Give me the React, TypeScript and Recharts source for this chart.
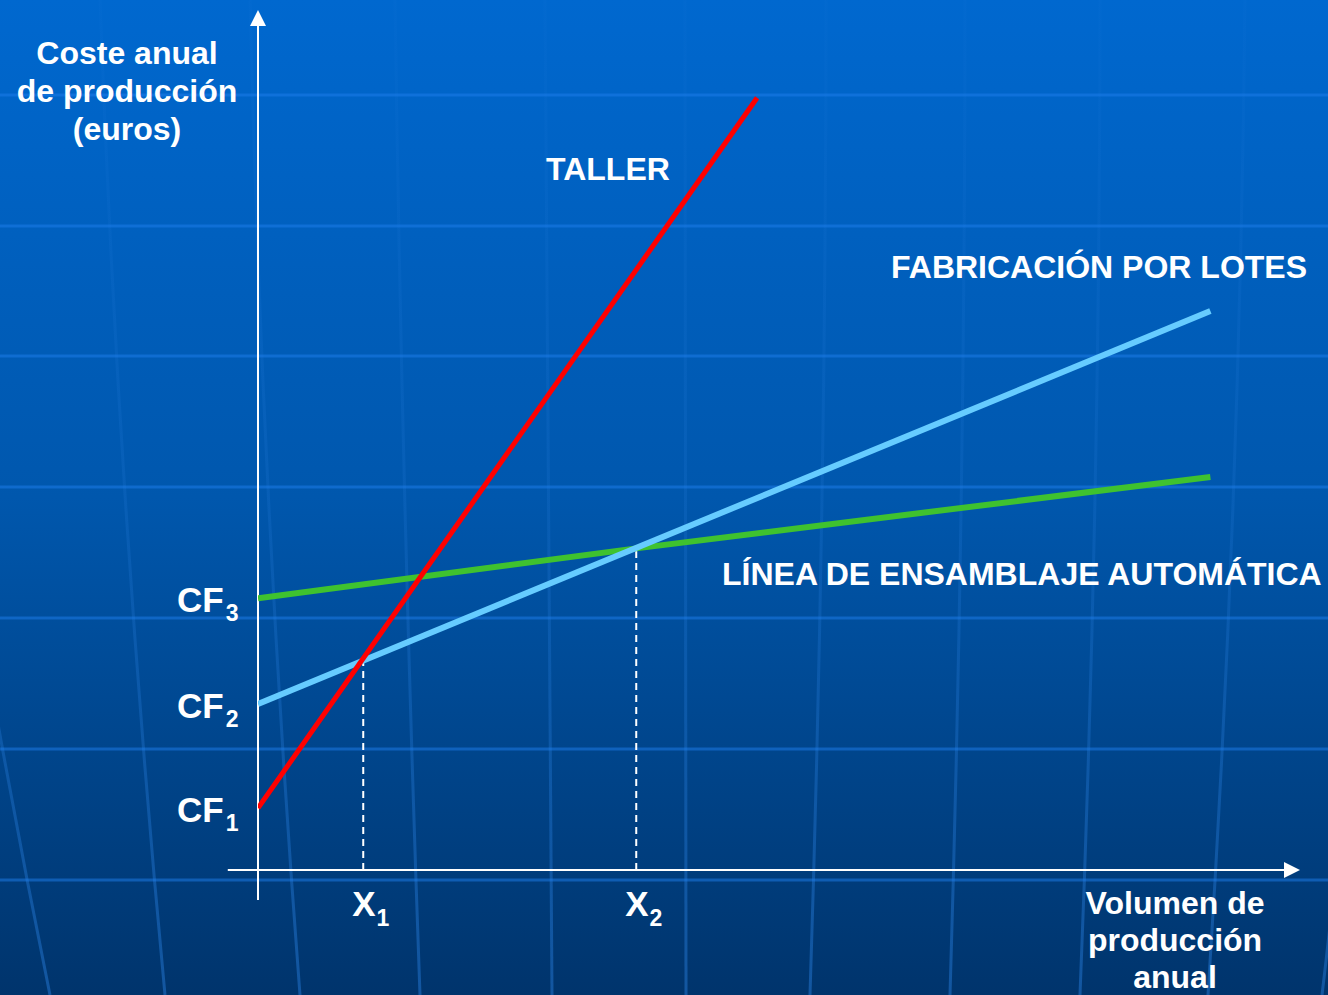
import { Line, LineChart, ReferenceLine, XAxis, YAxis } from "recharts";

// cost (c) against annual volume (v), both axes 0..100
const taller = [
  { v: 0, c: 7.2 },
  { v: 47.9, c: 89.8 },
];
const lotes = [
  { v: 0, c: 19.3 },
  { v: 91.4, c: 65.0 },
];
const ensamblaje = [
  { v: 0, c: 31.6 },
  { v: 36.3, c: 37.4 },
  { v: 91.4, c: 45.7 },
];

const cfTicks = [7.2, 19.3, 31.6];
const cfSubs = ["1", "2", "3"];
const xTicks = [10.1, 36.3];
const xSubs = ["1", "2"];
const crossCost = [24.5, 37.4];

const yTitle = ["Coste anual", "de producción", "(euros)"];
const xTitle = ["Volumen de", "producción", "anual"];

const W = 1328;
const H = 995;
const FONT = "'Liberation Sans', Arial, Helvetica, sans-serif";

const gridRows = [95, 226, 356, 487, 618, 749, 880];
const meridians = [
  "M -40 500 Q 0 750 50 995",
  "M 100 0 Q 118 500 165 995",
  "M 250 0 Q 262 500 300 995",
  "M 395 0 Q 402 500 420 995",
  "M 545 0 L 552 995",
  "M 685 0 L 686 995",
  "M 826 0 Q 826 500 810 995",
  "M 965 0 Q 965 500 950 995",
  "M 1100 0 Q 1100 500 1080 995",
  "M 1245 0 Q 1240 500 1208 995",
  "M 1380 0 Q 1370 600 1322 995",
];

function CfTick(props: any) {
  const { y, index } = props;
  return (
    <text x={177} y={y + 14} fill="#fff" fontFamily={FONT} fontWeight="bold" fontSize={35}>
      CF
      <tspan fontSize={23} dx={2} dy={9}>
        {cfSubs[index] ?? ""}
      </tspan>
    </text>
  );
}

function XTick(props: any) {
  const { x, index } = props;
  return (
    <text x={x - 11} y={916} fill="#fff" fontFamily={FONT} fontWeight="bold" fontSize={35}>
      X
      <tspan fontSize={23} dx={1} dy={10}>
        {xSubs[index] ?? ""}
      </tspan>
    </text>
  );
}

const arrowUp = (p: any) => (
  <g>
    <line x1={p.x1} y1={p.y1} x2={p.x2} y2={p.y2 + 10} stroke="#fff" strokeWidth={2} />
    <polygon points={`${p.x2},${p.y2} ${p.x2 - 8},${p.y2 + 16} ${p.x2 + 8},${p.y2 + 16}`} fill="#fff" />
  </g>
);

const arrowRight = (p: any) => (
  <g>
    <line x1={p.x1} y1={p.y1} x2={p.x2 - 10} y2={p.y2} stroke="#fff" strokeWidth={2} />
    <polygon points={`${p.x2},${p.y2} ${p.x2 - 16},${p.y2 - 8} ${p.x2 - 16},${p.y2 + 8}`} fill="#fff" />
  </g>
);

const labelStyle = { fill: "#fff", fontFamily: FONT, fontWeight: "bold" as const, fontSize: 32 };

export default function App() {
  return (
    <div
      style={{
        position: "relative",
        width: W,
        height: H,
        overflow: "hidden",
        background: "linear-gradient(to bottom, #0068cf 0%, #0057ad 50%, #00346c 100%)",
      }}
    >
      <style>{"body{margin:0}"}</style>
      <svg width={W} height={H} style={{ position: "absolute", left: 0, top: 0 }}>
        <defs>
          <linearGradient id="mer" x1="0" y1="0" x2="0" y2={H} gradientUnits="userSpaceOnUse">
            <stop offset="0" stopColor="#2a80e0" stopOpacity={0.05} />
            <stop offset="0.5" stopColor="#2a80e0" stopOpacity={0.18} />
            <stop offset="1" stopColor="#2a80e0" stopOpacity={0.45} />
          </linearGradient>
        </defs>
        {meridians.map((d, i) => (
          <path key={i} d={d} fill="none" stroke="url(#mer)" strokeWidth={3} />
        ))}
        {gridRows.map((y) => (
          <line key={y} x1={0} x2={W} y1={y} y2={y} stroke="rgba(30,125,235,0.5)" strokeWidth={3} />
        ))}
      </svg>
      <div style={{ position: "absolute", left: 0, top: 0 }}>
        <LineChart width={W} height={H} margin={{ top: 10, right: 28, bottom: 85, left: 198 }}>
          <XAxis
            type="number"
            dataKey="v"
            domain={[0, 100]}
            ticks={xTicks}
            height={40}
            axisLine={false}
            tickLine={false}
            tick={<XTick />}
            allowDataOverflow
          />
          <YAxis
            type="number"
            domain={[0, 100]}
            ticks={cfTicks}
            width={60}
            axisLine={false}
            tickLine={false}
            tick={<CfTick />}
            allowDataOverflow
          />
          <ReferenceLine
            segment={[
              { x: 0, y: -3.5 },
              { x: 0, y: 100 },
            ]}
            ifOverflow="visible"
            shape={arrowUp}
          />
          <ReferenceLine
            segment={[
              { x: -2.9, y: 0 },
              { x: 100, y: 0 },
            ]}
            ifOverflow="visible"
            shape={arrowRight}
          />
          {xTicks.map((x, i) => (
            <ReferenceLine
              key={x}
              segment={[
                { x, y: 0 },
                { x, y: crossCost[i] },
              ]}
              stroke="#fff"
              strokeWidth={2}
              strokeDasharray="7 5"
              ifOverflow="visible"
            />
          ))}
          <Line
            data={ensamblaje}
            dataKey="c"
            type="linear"
            stroke="#3fc22f"
            strokeWidth={6}
            dot={false}
            isAnimationActive={false}
          />
          <Line
            data={lotes}
            dataKey="c"
            type="linear"
            stroke="#66ccff"
            strokeWidth={6}
            dot={false}
            isAnimationActive={false}
          />
          <Line
            data={taller}
            dataKey="c"
            type="linear"
            stroke="#ff0000"
            strokeWidth={5}
            dot={false}
            isAnimationActive={false}
          />
        </LineChart>
      </div>
      <svg width={W} height={H} style={{ position: "absolute", left: 0, top: 0, pointerEvents: "none" }}>
        {yTitle.map((t, i) => (
          <text key={t} x={127} y={64 + i * 38} textAnchor="middle" {...labelStyle}>
            {t}
          </text>
        ))}
        {xTitle.map((t, i) => (
          <text key={t} x={1175} y={914 + i * 37} textAnchor="middle" {...labelStyle}>
            {t}
          </text>
        ))}
        <text x={546} y={180} {...labelStyle}>
          TALLER
        </text>
        <text x={891} y={278} {...labelStyle}>
          FABRICACIÓN POR LOTES
        </text>
        <text x={722} y={585} {...labelStyle}>
          LÍNEA DE ENSAMBLAJE AUTOMÁTICA
        </text>
      </svg>
    </div>
  );
}
